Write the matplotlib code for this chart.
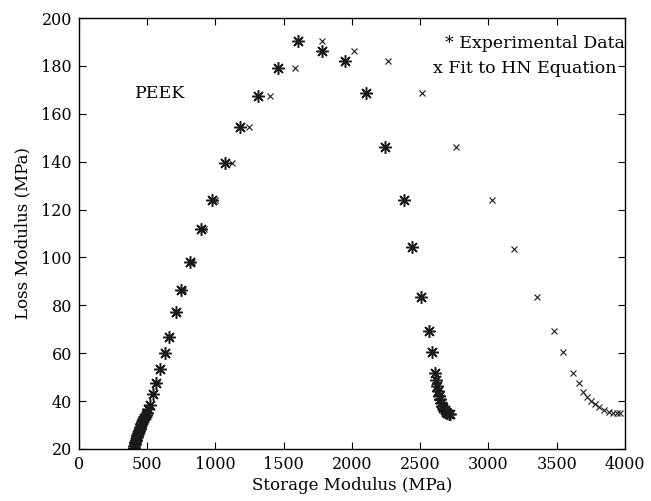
import matplotlib
matplotlib.use('Agg')
import matplotlib.pyplot as plt

# experimental data (storage modulus, loss modulus) in MPa
exp_storage = [402, 406, 410, 414, 418, 423, 428, 433, 439, 445, 451, 458,
               465, 473, 481, 490, 500, 510, 519, 541, 568, 592, 629, 658,
               712, 751, 817, 895, 976, 1068, 1183, 1312, 1459, 1605, 1781,
               1947, 2103, 2240, 2379, 2444, 2508, 2562, 2586, 2611, 2617,
               2623, 2629, 2636, 2644, 2652, 2661, 2670, 2680, 2690, 2700,
               2710, 2718]
exp_loss = [20.3, 21.2, 22.1, 23.0, 23.9, 24.8, 25.7, 26.6, 27.5, 28.4, 29.3,
            30.2, 31.1, 32.0, 33.0, 34.0, 35.2, 36.6, 38.4, 43.0, 47.5, 53.4,
            60.2, 66.6, 77.0, 86.4, 98.0, 111.7, 124.1, 139.3, 154.5, 167.6,
            179.2, 190.2, 186.1, 182.0, 168.6, 146.0, 124.1, 104.4, 83.4,
            69.3, 60.3, 51.6, 48.6, 46.2, 44.1, 42.3, 40.7, 39.3, 38.1, 37.1,
            36.3, 35.6, 35.1, 34.7, 34.4]

# fit to the Havriliak-Negami equation
fit_storage = [404, 409, 414, 419, 424, 430, 436, 442, 449, 456, 464, 472,
               481, 490, 500, 511, 523, 546, 573, 598, 635, 666, 722, 763,
               832, 914, 1000, 1122, 1244, 1403, 1586, 1781, 2013, 2261,
               2513, 2762, 3026, 3190, 3355, 3482, 3545, 3620, 3660, 3692,
               3721, 3750, 3782, 3813, 3843, 3880, 3916, 3942, 3965]
fit_loss = [20.3, 21.3, 22.3, 23.3, 24.3, 25.3, 26.3, 27.3, 28.3, 29.3, 30.3,
            31.3, 32.4, 33.5, 34.8, 36.3, 38.4, 43.0, 47.5, 53.4, 60.2, 66.6,
            77.0, 86.4, 98.0, 111.7, 124.1, 139.3, 154.5, 167.6, 179.2,
            190.2, 186.1, 182.0, 168.6, 146.0, 124.1, 103.7, 83.4, 69.3,
            60.3, 51.5, 47.7, 43.9, 41.8, 40.2, 38.8, 37.4, 36.3, 35.6, 35.2,
            35.0, 34.8]

x_ticks = [0, 500, 1000, 1500, 2000, 2500, 3000, 3500, 4000]
y_ticks = [20, 40, 60, 80, 100, 120, 140, 160, 180, 200]

plt.rcParams['font.family'] = ['DejaVu Serif']
plt.rcParams['font.size'] = 12

fig = plt.figure(figsize=(6.51, 5.01), dpi=100)
ax = fig.add_axes([0.121, 0.104, 0.839, 0.860])

# asterisk markers like the old matlab '*'
ax.plot(exp_storage, exp_loss, linestyle='none', marker=(8, 2, 0),
        markersize=9, markeredgewidth=1.1, color='#1a1a1a')
ax.plot(fit_storage, fit_loss, linestyle='none', marker='x',
        markersize=5, markeredgewidth=0.8, color='#1a1a1a')

ax.set_xlim(0, 4000)
ax.set_ylim(20, 200)
ax.set_xticks(x_ticks)
ax.set_yticks(y_ticks)
ax.tick_params(direction='in', top=True, right=True, length=5,
               labelsize=11.5, pad=5)
for s in ax.spines.values():
    s.set_linewidth(1.0)

ax.set_xlabel('Storage Modulus (MPa)', fontsize=12, labelpad=3)
ax.set_ylabel('Loss Modulus (MPa)', fontsize=12, labelpad=7)

ax.text(414, 168.6, 'PEEK', fontsize=12.5, va='center', ha='left')
ax.text(1.0, 0.94, '* Experimental Data', transform=ax.transAxes,
        ha='right', va='center', fontsize=12.5)
ax.text(0.985, 0.884, 'x Fit to HN Equation', transform=ax.transAxes,
        ha='right', va='center', fontsize=12.5)

fig.savefig('out.png', dpi=100)
